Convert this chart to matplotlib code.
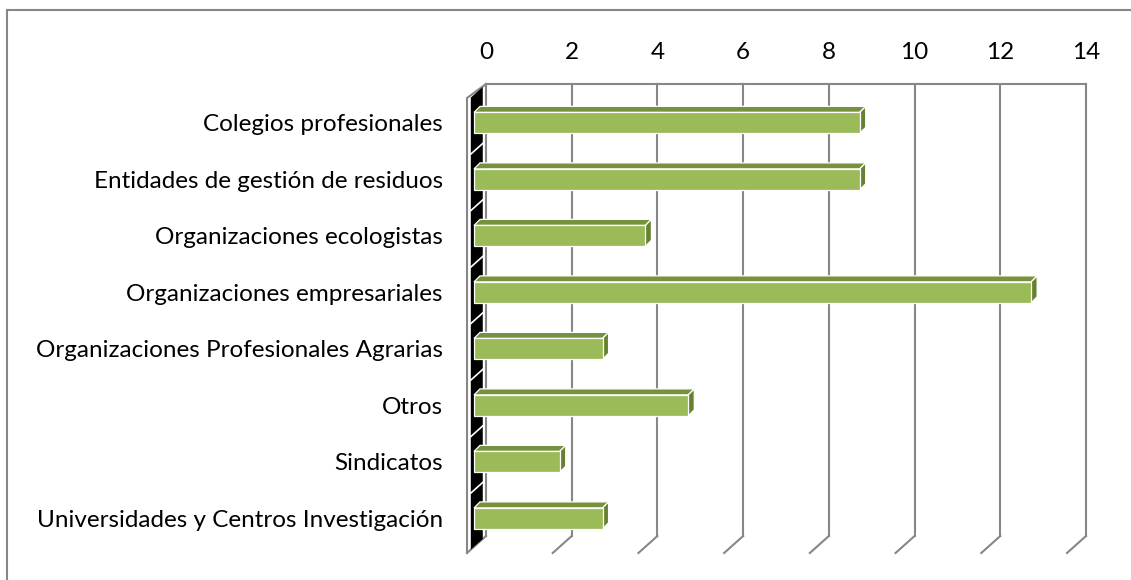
import numpy as np
import matplotlib
matplotlib.use("Agg")
import matplotlib.pyplot as plt
from matplotlib.patches import Polygon

categories = [
    "Colegios profesionales",
    "Entidades de gestión de residuos",
    "Organizaciones ecologistas",
    "Organizaciones empresariales",
    "Organizaciones Profesionales Agrarias",
    "Otros",
    "Sindicatos",
    "Universidades y Centros Investigación",
]
values = [9, 9, 4, 13, 3, 5, 2, 3]
ticks = [0, 2, 4, 6, 8, 10, 12, 14]

plt.rcParams["font.family"] = ["Lato", "DejaVu Sans"]

W, H = 1131, 580
fig = plt.figure(figsize=(W / 100, H / 100), dpi=100)

# back wall in pixels
wl, wr, wt, wb = 486, 1086, 84, 536
ax = fig.add_axes([wl / W, 1 - wb / H, (wr - wl) / W, (wb - wt) / H])
n = len(categories)
xmax = ticks[-1]
ax.set_xlim(0, xmax)
ax.set_ylim(n, 0)
for s in ax.spines.values():
    s.set_visible(False)

# pixel -> data helpers
sx = xmax / (wr - wl)
sy = n / (wb - wt)


def off(px, py):
    return px * sx, py * sy


grid_c = "#878787"
glw = 1.5
depth = off(-19, 17)

# side wall (black) with white band separators
f0, f1 = 0.17, 0.8
d0 = (depth[0] * f0, depth[1] * f0)
d1 = (depth[0] * f1, depth[1] * f1)
side = Polygon([(d0[0], d0[1]), (d1[0], d1[1]), (d1[0], n + d1[1]), (d0[0], n + d0[1])],
               closed=True, facecolor="black", edgecolor="none", clip_on=False, zorder=1)
ax.add_patch(side)
for i in range(1, n):
    ax.plot([d0[0], d1[0]], [i + d0[1], i + d1[1]], color="white", lw=1.2,
            clip_on=False, zorder=1.5)

# gridlines on back wall and floor
for t in ticks:
    ax.plot([t, t], [0, n], color=grid_c, lw=glw, clip_on=False, zorder=0.5)
    ax.plot([t, t + depth[0]], [n, n + depth[1]], color=grid_c, lw=glw,
            clip_on=False, zorder=0.5)
ax.plot([0, xmax], [0, 0], color=grid_c, lw=glw, clip_on=False, zorder=0.5)
# side wall frame
ax.plot([0, depth[0], depth[0]], [0, depth[1] - 3 * sy, n + depth[1]], color=grid_c,
        lw=glw, clip_on=False, zorder=0.6)

# bars
fo = off(-12, 12)
bo = off(-6, 6)
yt, yb = 0.29, 0.66
c_front, c_top, c_side = "#9BBB59", "#76923C", "#66822F"
for i, v in enumerate(values):
    y0, y1 = i + yt, i + yb
    front = [(fo[0], y0 + fo[1]), (v + fo[0], y0 + fo[1]),
             (v + fo[0], y1 + fo[1]), (fo[0], y1 + fo[1])]
    top = [(fo[0], y0 + fo[1]), (v + fo[0], y0 + fo[1]),
           (v + bo[0], y0 + bo[1]), (bo[0], y0 + bo[1])]
    rside = [(v + fo[0], y0 + fo[1]), (v + bo[0], y0 + bo[1]),
             (v + bo[0], y1 + bo[1]), (v + fo[0], y1 + fo[1])]
    for pts, c in [(top, c_top), (rside, c_side), (front, c_front)]:
        ax.add_patch(Polygon(pts, closed=True, facecolor=c, edgecolor="white",
                             lw=0.9, clip_on=False, zorder=3))

# ticks and labels
ax.xaxis.tick_top()
ax.set_xticks(ticks)
ax.set_xticklabels([str(t) for t in ticks], fontsize=17.5)
ax.tick_params(axis="x", length=0, pad=15)
ax.set_yticks(np.arange(n) + 0.69)
ax.set_yticklabels(categories, fontsize=17.5)
ax.tick_params(axis="y", length=0, pad=31)

# outer chart frame
fig.add_artist(plt.Line2D([7 / W, 7 / W], [0, 1 - 10 / H], color=grid_c, lw=1.5))
fig.add_artist(plt.Line2D([7 / W, 1], [1 - 10 / H, 1 - 10 / H], color=grid_c, lw=1.5))

fig.savefig("out.png", dpi=100)
